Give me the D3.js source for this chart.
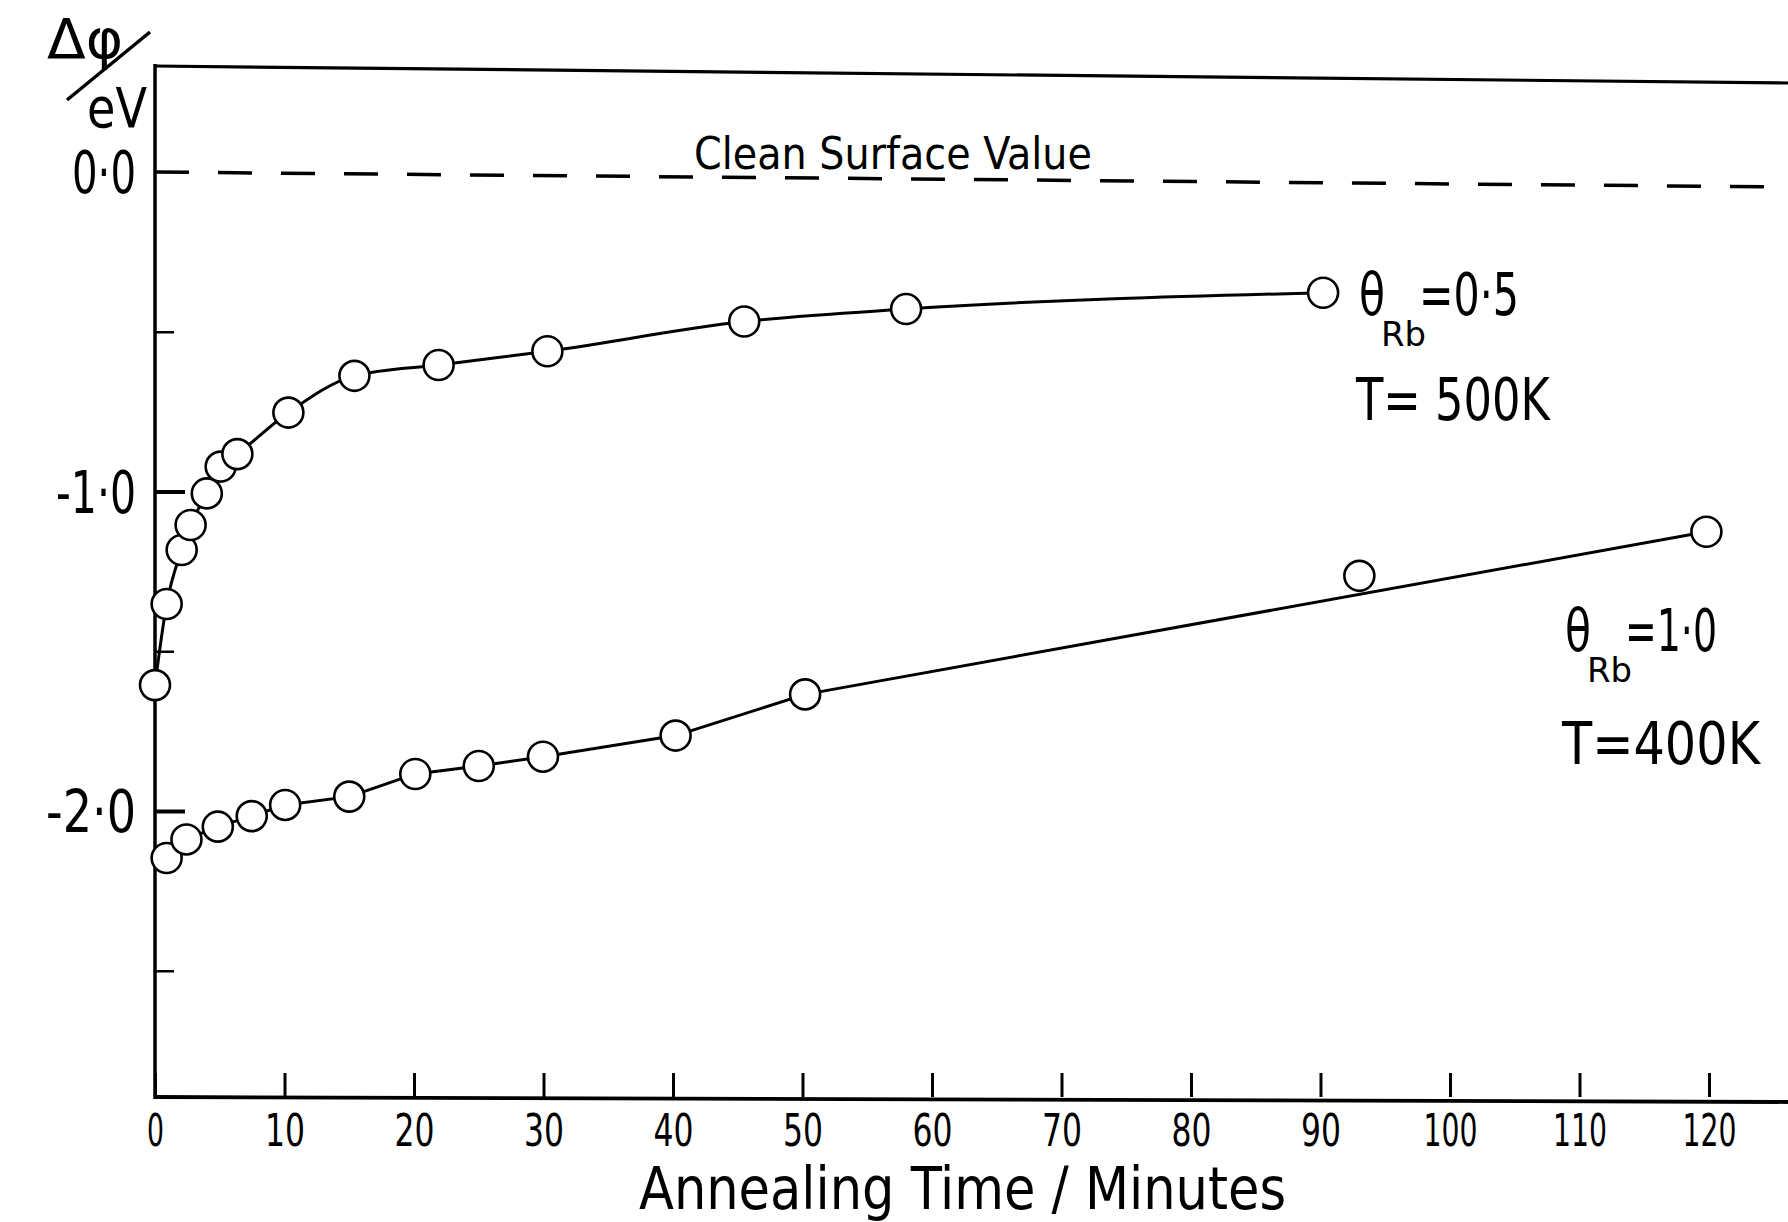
<!DOCTYPE html>
<html>
<head>
<meta charset="utf-8">
<script src="https://cdn.jsdelivr.net/npm/d3@7"></script>
<style>
  html, body { margin: 0; padding: 0; background: #fff; }
  svg { display: block; }
  text { font-family: "Liberation Sans Narrow", "DejaVu Sans Condensed", "DejaVu Sans", sans-serif; fill: #000; }
</style>
</head>
<body>
<svg id="chart" width="1788" height="1222"></svg>
<script>
// Work-function change of the Rb-covered surface while annealing.
// θ_Rb = 0.5, annealed at T = 500 K
const minutesHalf = [0, 0.9, 2.06, 2.75, 4.0, 5.07, 6.36, 10.3, 15.4, 21.9, 30.3, 45.5, 58.0, 90.2];
const deltaPhiHalf = [-1.606, -1.352, -1.183, -1.105, -1.006, -0.922, -0.883, -0.753, -0.638, -0.604, -0.561, -0.468, -0.429, -0.378];

// θ_Rb = 1.0, annealed at T = 400 K (the 93-minute reading lies off the drawn trend)
const minutesFull = [0.9, 2.43, 4.85, 7.47, 10.05, 15.0, 20.1, 25.0, 29.96, 40.2, 50.2, 93.0, 119.8];
const deltaPhiFull = [-2.147, -2.089, -2.049, -2.016, -1.981, -1.955, -1.884, -1.859, -1.830, -1.764, -1.635, -1.264, -1.126];
const onTrendFull = [true, true, true, true, true, true, true, true, true, true, true, false, true];

const xTicks = [0, 10, 20, 30, 40, 50, 60, 70, 80, 90, 100, 110, 120];
const yMajorTicks = [0, -1, -2];
const yMinorTicks = [-0.5, -1.5, -2.5];
const yTickLabels = ["0·0", "-1·0", "-2·0"];

const W = 1788, H = 1222;
const svg = d3.select("#chart");

const x = d3.scaleLinear().domain([0, 120]).range([155, 1709]);
const y = d3.scaleLinear().domain([0, -2]).range([172, 811]);

const left = x(0);
const frameTop = 66;
const frameBottom = 1097;

// frame: left axis, top rule and bottom axis (running off to the right edge)
svg.append("line").attr("x1", left).attr("x2", left).attr("y1", frameTop - 2).attr("y2", frameBottom + 2)
  .attr("stroke", "#000").attr("stroke-width", 3.5);
svg.append("line").attr("x1", left - 1).attr("x2", W).attr("y1", frameTop).attr("y2", frameTop + 17)
  .attr("stroke", "#000").attr("stroke-width", 3.2);
svg.append("line").attr("x1", left - 1).attr("x2", W).attr("y1", frameBottom).attr("y2", frameBottom + 5)
  .attr("stroke", "#000").attr("stroke-width", 3.8);

// x axis: inward ticks with labels below
const xAxis = svg.append("g").attr("transform", `translate(0,${frameBottom})`)
  .call(d3.axisBottom(x).tickValues(xTicks).tickSizeInner(-24).tickSizeOuter(0).tickPadding(18).tickFormat(d3.format("d")));
xAxis.select(".domain").remove();
xAxis.selectAll(".tick line").attr("stroke", "#000").attr("stroke-width", 3);
xAxis.selectAll(".tick text")
  .attr("font-size", 44)
  .attr("textLength", d => d === 0 ? 17 : (d >= 100 ? 54 : 40))
  .attr("lengthAdjust", "spacingAndGlyphs")
  .style("font-family", null);

// y axis: labels on the left, inward ticks on the right of the axis line
const yLabels = svg.append("g").attr("transform", `translate(${left},0)`)
  .call(d3.axisLeft(y).tickValues(yMajorTicks).tickSize(0).tickPadding(19)
    .tickFormat((d, i) => yTickLabels[i]));
yLabels.select(".domain").remove();
yLabels.selectAll(".tick text")
  .attr("font-size", 58)
  .attr("dy", "0.36em")
  .attr("textLength", (d, i) => [64, 80, 90][i])
  .attr("lengthAdjust", "spacingAndGlyphs");

const yMajor = svg.append("g").attr("transform", `translate(${left},0)`)
  .call(d3.axisRight(y).tickValues(yMajorTicks.filter(d => d !== 0)).tickSize(30).tickFormat(""));
yMajor.select(".domain").remove();
yMajor.selectAll(".tick line").attr("stroke", "#000").attr("stroke-width", 4);

const yMinor = svg.append("g").attr("transform", `translate(${left},0)`)
  .call(d3.axisRight(y).tickValues(yMinorTicks).tickSize(19).tickFormat(""));
yMinor.select(".domain").remove();
yMinor.selectAll(".tick line").attr("stroke", "#000").attr("stroke-width", 2.5);

// clean-surface reference at zero
svg.append("line")
  .attr("x1", left).attr("y1", y(0)).attr("x2", W).attr("y2", y(0) + 15)
  .attr("stroke", "#000").attr("stroke-width", 3.5).attr("stroke-dasharray", "34 29");
svg.append("text").attr("x", 694).attr("y", y(0) - 3)
  .attr("font-size", 44).attr("textLength", 398).attr("lengthAdjust", "spacingAndGlyphs")
  .text("Clean Surface Value");

// series
const half = minutesHalf.map((m, i) => ({ m, v: deltaPhiHalf[i] }));
const full = minutesFull.map((m, i) => ({ m, v: deltaPhiFull[i], trend: onTrendFull[i] }));

const smoothLine = d3.line().x(d => x(d.m)).y(d => y(d.v)).curve(d3.curveMonotoneX);
const straightLine = d3.line().x(d => x(d.m)).y(d => y(d.v));

svg.append("path").datum(half).attr("d", smoothLine)
  .attr("fill", "none").attr("stroke", "#000").attr("stroke-width", 3);
svg.append("path").datum(full.filter(d => d.trend)).attr("d", straightLine)
  .attr("fill", "none").attr("stroke", "#000").attr("stroke-width", 3).attr("stroke-linejoin", "round");

const r = 15;
svg.append("g").selectAll("circle").data(half.concat(full)).join("circle")
  .attr("cx", d => x(d.m)).attr("cy", d => y(d.v)).attr("r", r)
  .attr("fill", "#fff").attr("stroke", "#000").attr("stroke-width", 2.6);

// series labels
function coverageLabel(xPos, baseline, value, valueWidth) {
  const g = svg.append("g");
  g.append("text").attr("x", xPos).attr("y", baseline).attr("font-size", 58)
    .attr("textLength", 26).attr("lengthAdjust", "spacingAndGlyphs").text("θ");
  g.append("text").attr("x", xPos + 22).attr("y", baseline + 31).attr("font-size", 33)
    .attr("textLength", 45).attr("lengthAdjust", "spacingAndGlyphs").text("Rb");
  g.append("text").attr("x", xPos + 60).attr("y", baseline).attr("font-size", 58)
    .attr("textLength", valueWidth).attr("lengthAdjust", "spacingAndGlyphs").text(value);
}
coverageLabel(1359, 315, "=0·5", 100);
svg.append("text").attr("x", 1356).attr("y", 420).attr("font-size", 58)
  .attr("textLength", 194).attr("lengthAdjust", "spacingAndGlyphs").text("T= 500K");

coverageLabel(1565, 651, "=1·0", 92);
svg.append("text").attr("x", 1562).attr("y", 764).attr("font-size", 58)
  .attr("textLength", 198).attr("lengthAdjust", "spacingAndGlyphs").text("T=400K");

// y-axis quantity, written as a fraction with a slanted bar
svg.append("text").attr("x", 47).attr("y", 58).attr("font-size", 56)
  .attr("textLength", 76).attr("lengthAdjust", "spacingAndGlyphs").text("Δφ");
svg.append("line").attr("x1", 67).attr("y1", 100).attr("x2", 150).attr("y2", 32)
  .attr("stroke", "#000").attr("stroke-width", 3.5);
svg.append("text").attr("x", 87).attr("y", 127).attr("font-size", 56)
  .attr("textLength", 60).attr("lengthAdjust", "spacingAndGlyphs").text("eV");

// x-axis title
svg.append("text").attr("x", 639).attr("y", 1209).attr("font-size", 58)
  .attr("textLength", 647).attr("lengthAdjust", "spacingAndGlyphs").text("Annealing  Time / Minutes");
</script>
</body>
</html>
